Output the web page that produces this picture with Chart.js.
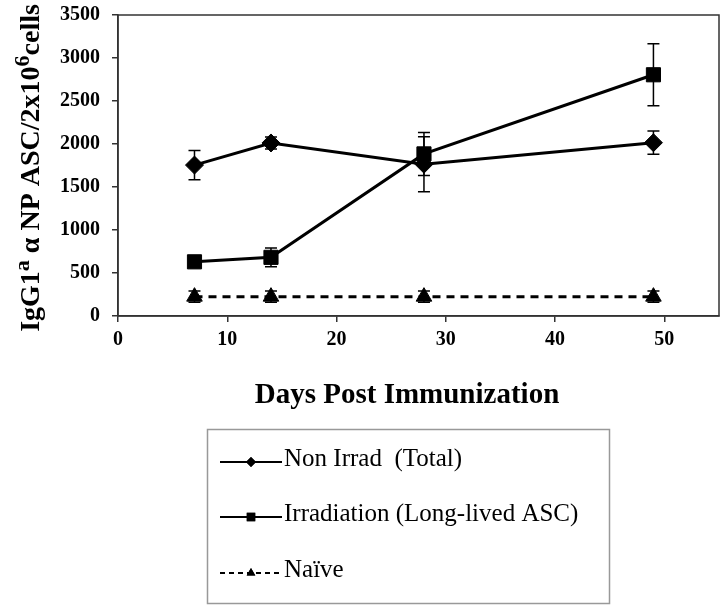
<!DOCTYPE html>
<html>
<head>
<meta charset="utf-8">
<script src="https://cdn.jsdelivr.net/npm/chart.js@4.4.0/dist/chart.umd.min.js"></script>
<style>
  html, body { margin: 0; padding: 0; background: #fff; overflow: hidden; }
  canvas { display: block; }
</style>
</head>
<body>
<canvas id="chart" width="720" height="605"></canvas>
<script>
// data
var days = [7, 14, 28, 49];
var nonIrrad = [1755, 2012, 1765, 2015];
var nonIrradErr = [170, 70, 320, 135];
var irrad = [630, 682, 1885, 2805];
var irradErr = [40, 110, 250, 360];
var naive = [225, 225, 225, 225];
var naiveErr = [65, 65, 65, 65];
var xTicks = [0, 10, 20, 30, 40, 50];
var yTicks = [0, 500, 1000, 1500, 2000, 2500, 3000, 3500];
var seriesNames = ['Non Irrad  (Total)', 'Irradiation (Long-lived ASC)', 'Naïve'];

var SERIF = '"Liberation Serif", "Times New Roman", serif';

function pts(ys) {
    return days.map(function(d, i) { return { x: d, y: ys[i] }; });
}

// error bars, drawn under the markers
var errorBars = {
    id: 'errorBars',
    beforeDatasetsDraw: function(chart) {
        var ctx = chart.ctx;
        var xs = chart.scales.x, ys = chart.scales.y;
        ctx.save();
        ctx.strokeStyle = '#000';
        ctx.lineWidth = 1.5;
        chart.data.datasets.forEach(function(ds) {
            ds.data.forEach(function(p, i) {
                var e = ds.errors[i];
                var px = xs.getPixelForValue(p.x);
                var top = ys.getPixelForValue(p.y + e);
                var bot = ys.getPixelForValue(p.y - e);
                ctx.beginPath();
                ctx.moveTo(px, top); ctx.lineTo(px, bot);
                ctx.moveTo(px - 6, top); ctx.lineTo(px + 6, top);
                ctx.moveTo(px - 6, bot); ctx.lineTo(px + 6, bot);
                ctx.stroke();
            });
        });
        ctx.restore();
    }
};

// frame, axis titles and the boxed legend
var decorations = {
    id: 'decorations',
    afterDraw: function(chart) {
        var ctx = chart.ctx;
        var a = chart.chartArea;
        ctx.save();
        ctx.strokeStyle = '#333';
        ctx.lineWidth = 1.5;
        ctx.strokeRect(a.left, a.top, a.right - a.left, a.bottom - a.top);

        // x title
        ctx.fillStyle = '#000';
        ctx.font = 'bold 29px ' + SERIF;
        ctx.textAlign = 'center';
        ctx.textBaseline = 'alphabetic';
        ctx.fillText('Days Post Immunization', 407, 403);

        // y title with superscripts
        var parts = [
            { t: 'IgG1', sup: false },
            { t: 'a', sup: true },
            { t: ' \u03b1 NP ASC/2x10', sup: false },
            { t: '6', sup: true },
            { t: 'cells', sup: false }
        ];
        var mainFont = 'bold 28px ' + SERIF, supFont = 'bold 22px ' + SERIF;
        var total = 0;
        parts.forEach(function(p) {
            ctx.font = p.sup ? supFont : mainFont;
            p.w = ctx.measureText(p.t).width;
            total += p.w;
        });
        ctx.translate(39, 168);
        ctx.rotate(-Math.PI / 2);
        ctx.textAlign = 'left';
        var x = -total / 2;
        parts.forEach(function(p) {
            ctx.font = p.sup ? supFont : mainFont;
            ctx.fillText(p.t, x, p.sup ? -10 : 0);
            x += p.w;
        });
        ctx.setTransform(1, 0, 0, 1, 0, 0);

        // legend box
        ctx.strokeStyle = '#999';
        ctx.lineWidth = 1.5;
        ctx.strokeRect(207.5, 429.5, 402, 174);
        var rows = [462, 517, 573];
        var styles = ['rectRot', 'rect', 'triangle'];
        var radii = [5, 6, 5];
        ctx.font = '25px ' + SERIF;
        ctx.textBaseline = 'alphabetic';
        rows.forEach(function(y, i) {
            ctx.strokeStyle = '#000';
            ctx.lineWidth = 2;
            ctx.setLineDash(i === 2 ? [5, 4] : []);
            ctx.beginPath();
            ctx.moveTo(220, y); ctx.lineTo(282, y);
            ctx.stroke();
            ctx.setLineDash([]);
            ctx.fillStyle = '#000';
            Chart.helpers.drawPoint(ctx, { pointStyle: styles[i], radius: radii[i], borderWidth: 0 }, 251, y);
            ctx.fill();
            ctx.fillText(seriesNames[i], 284, y + 4);
        });
        ctx.restore();
    }
};

function dataset(name, ys, errs, style, radius, dash) {
    return {
        label: name,
        data: pts(ys),
        errors: errs,
        borderColor: '#000',
        backgroundColor: '#000',
        borderWidth: 3,
        borderDash: dash,
        pointStyle: style,
        pointRadius: radius,
        pointHoverRadius: radius,
        pointBorderWidth: 1,
        pointBackgroundColor: '#000',
        pointBorderColor: '#000',
        tension: 0
    };
}

new Chart(document.getElementById('chart'), {
    type: 'line',
    data: {
        datasets: [
            dataset(seriesNames[0], nonIrrad, nonIrradErr, 'rectRot', 9, []),
            dataset(seriesNames[1], irrad, irradErr, 'rect', 10, []),
            dataset(seriesNames[2], naive, naiveErr, 'triangle', 9, [8, 6])
        ]
    },
    options: {
        responsive: false,
        animation: false,
        layout: { autoPadding: false, padding: { top: 15, right: 1, bottom: 0, left: 0 } },
        plugins: { legend: { display: false }, tooltip: { enabled: false } },
        scales: {
            x: {
                type: 'linear',
                min: 0,
                max: 55,
                afterBuildTicks: function(s) { s.ticks = xTicks.map(function(v) { return { value: v }; }); },
                afterFit: function(s) { s.height = 605 - 316; s.paddingLeft = 0; s.paddingRight = 0; },
                grid: { drawOnChartArea: false, drawTicks: true, tickLength: 6, color: '#333', lineWidth: 1.5 },
                border: { color: '#333', width: 1.5 },
                ticks: { color: '#000', padding: 6, maxRotation: 0, font: { family: SERIF, size: 20, weight: 'bold' } }
            },
            y: {
                min: 0,
                max: 3500,
                afterBuildTicks: function(s) { s.ticks = yTicks.map(function(v) { return { value: v }; }); },
                afterFit: function(s) { s.width = 118; s.paddingTop = 0; s.paddingBottom = 0; },
                grid: { drawOnChartArea: false, drawTicks: true, tickLength: 6, color: '#333', lineWidth: 1.5 },
                border: { color: '#333', width: 1.5 },
                ticks: {
                    color: '#000',
                    padding: 12,
                    font: { family: SERIF, size: 20, weight: 'bold' },
                    callback: function(v) { return String(v); }
                }
            }
        }
    },
    plugins: [errorBars, decorations]
});
</script>
</body>
</html>
